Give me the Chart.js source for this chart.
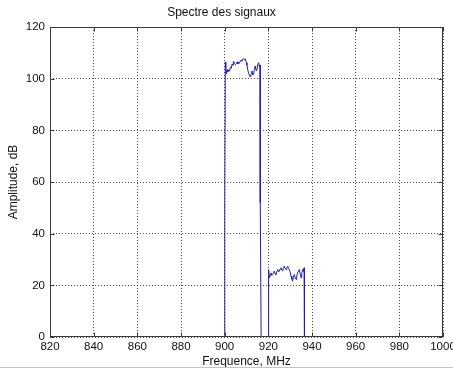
<!DOCTYPE html>
<html>
<head>
<meta charset="utf-8">
<title>Spectre des signaux</title>
<script src="https://cdn.jsdelivr.net/npm/chart.js@4/dist/chart.umd.min.js"></script>
<style>
  html, body { margin: 0; padding: 0; background: #fff; }
  #wrap { width: 453px; height: 369px; }
</style>
</head>
<body>
<div id="wrap"><canvas id="spectre" width="453" height="369"></canvas></div>
<script>
// values (two bands, gap between them is null)
const freqMHz = [
  900.0, 900.05, 900.3, 900.5, 900.8, 901.1, 901.4, 901.8, 902.2, 902.6,
  903.0, 903.4, 903.8, 904.1, 904.5, 904.9, 905.3, 905.7, 906.1, 906.4,
  906.8, 907.2, 907.5, 907.9, 908.3, 908.7, 909.1, 909.5, 909.9, 910.2,
  910.6, 911.0, 911.4, 911.8, 912.2, 912.5, 912.9, 913.3, 913.6, 914.0,
  914.4, 914.8, 915.2, 915.6, 915.9, 916.2, 916.3, 916.7,
  918.0,
  920.0, 920.05, 920.2, 920.5, 920.8, 921.2, 921.6, 922.0, 922.4, 922.7,
  923.1, 923.5, 923.9, 924.3, 924.7, 925.0, 925.4, 925.8, 926.2, 926.6,
  926.9, 927.3, 927.7, 928.1, 928.5, 928.9, 929.3, 929.6, 930.0, 930.4,
  930.8, 931.1, 931.5, 931.9, 932.3, 932.7, 933.0, 933.4, 933.8, 934.2,
  934.6, 935.0, 935.3, 935.7, 936.1, 936.4, 936.5, 936.6
];
const amplitudeDb = [
  0, 52, 106.5, 104, 101.8, 103.5, 102.6, 103.4, 102.9, 104.4,
  104, 105.6, 105.2, 106.7, 105.9, 105.4, 105.8, 106.5, 105.7, 106.3,
  106.0, 106.9, 107.2, 106.8, 107.5, 107.8, 107.3, 107.6, 106.2, 105.2,
  103.4, 102.0, 101.2, 100.6, 102.1, 103.0, 101.4, 101.7, 103.6, 104.9,
  103.2, 103.7, 105.6, 106.2, 104.6, 105.3, 52, 0,
  null,
  0, 13, 26.1, 22.9, 24.0, 24.8, 23.8, 24.2, 25.0, 25.5,
  24.6, 24.2, 25.3, 26.1, 25.2, 25.5, 26.3, 26.8, 25.9, 25.5,
  26.6, 27.4, 26.6, 26.1, 27.0, 27.4, 26.5, 26.0, 25.2, 23.5,
  22.4, 21.6, 23.1, 24.2, 23.0, 22.3, 23.6, 24.8, 25.5, 26.1,
  24.4, 22.9, 24.6, 26.1, 25.4, 26.8, 13, 0
];
const xTicks = [820, 840, 860, 880, 900, 920, 940, 960, 980, 1000];
const yTicks = [0, 20, 40, 60, 80, 100, 120];

const FONT = '"Liberation Sans", Arial, sans-serif';

// box + inward tick marks, like a matlab axes
const axesBox = {
  id: 'axesBox',
  afterDatasetsDraw(chart) {
    const { ctx, chartArea: a, scales: { x, y } } = chart;
    const L = Math.round(a.left) + 0.5, R = Math.round(a.right) - 0.5;
    const T = Math.round(a.top) + 0.5, B = Math.round(a.bottom) - 0.5;
    ctx.save();
    ctx.strokeStyle = '#3a3a3a';
    ctx.lineWidth = 1;
    ctx.strokeRect(L, T, R - L, B - T);
    ctx.beginPath();
    xTicks.forEach((v) => {
      const px = Math.round(x.getPixelForValue(v)) + 0.5;
      ctx.moveTo(px, B); ctx.lineTo(px, B - 4);
      ctx.moveTo(px, T); ctx.lineTo(px, T + 4);
    });
    yTicks.forEach((v) => {
      const py = Math.round(y.getPixelForValue(v)) + 0.5;
      ctx.moveTo(L, py); ctx.lineTo(L + 4, py);
      ctx.moveTo(R, py); ctx.lineTo(R - 4, py);
    });
    ctx.stroke();
    // thin grey edge at the very bottom of the window
    ctx.strokeStyle = '#c4c4c4';
    ctx.beginPath();
    ctx.moveTo(0, 367.5); ctx.lineTo(453, 367.5);
    ctx.stroke();
    ctx.restore();
  }
};

const fixSize = (w, h) => (scale) => {
  if (w !== null) scale.width = w;
  if (h !== null) scale.height = h;
  scale.paddingLeft = 0; scale.paddingRight = 0;
  scale.paddingTop = 0; scale.paddingBottom = 0;
};

const grid = {
  color: 'rgba(0,0,0,0.7)',
  lineWidth: 1,
  drawTicks: false
};
// in v4 the grid line dash comes from border.dash
const border = { display: false, dash: [1, 2] };

new Chart(document.getElementById('spectre'), {
  type: 'line',
  data: {
    datasets: [{
      data: freqMHz.map((f, i) => ({ x: f, y: amplitudeDb[i] })),
      borderColor: '#1c1cb8',
      borderWidth: 1,
      pointRadius: 0,
      tension: 0,
      spanGaps: false,
      fill: false
    }]
  },
  options: {
    responsive: false,
    animation: false,
    events: [],
    layout: { padding: { left: 0, right: 10, top: 0, bottom: 0 } },
    plugins: {
      legend: { display: false },
      tooltip: { enabled: false },
      title: {
        display: true,
        text: 'Spectre des signaux',
        color: '#111',
        font: { family: FONT, size: 12, weight: 'normal', lineHeight: 1.2 },
        padding: { top: 5, bottom: 7.6 }
      }
    },
    scales: {
      x: {
        type: 'linear',
        min: 820,
        max: 1000,
        afterBuildTicks: (s) => { s.ticks = xTicks.map((v) => ({ value: v })); },
        afterFit: fixSize(null, 32),
        grid: grid,
        border: border,
        ticks: {
          color: '#111',
          padding: 3,
          maxRotation: 0,
          autoSkip: false,
          callback: (v) => String(v),
          font: { family: FONT, size: 11.5 }
        },
        title: {
          display: true,
          text: 'Frequence, MHz',
          color: '#111',
          font: { family: FONT, size: 12, lineHeight: 1.2 },
          padding: { top: 0, bottom: 0 }
        }
      },
      y: {
        min: 0,
        max: 120,
        afterBuildTicks: (s) => { s.ticks = yTicks.map((v) => ({ value: v })); },
        afterFit: fixSize(50, null),
        grid: grid,
        border: border,
        ticks: {
          color: '#111',
          padding: 5,
          callback: (v) => String(v),
          font: { family: FONT, size: 11.5 }
        },
        title: {
          display: true,
          text: 'Amplitude, dB',
          color: '#111',
          font: { family: FONT, size: 12, lineHeight: 1.2 },
          padding: { top: 6, bottom: 0 }
        }
      }
    }
  },
  plugins: [axesBox]
});
</script>
</body>
</html>
